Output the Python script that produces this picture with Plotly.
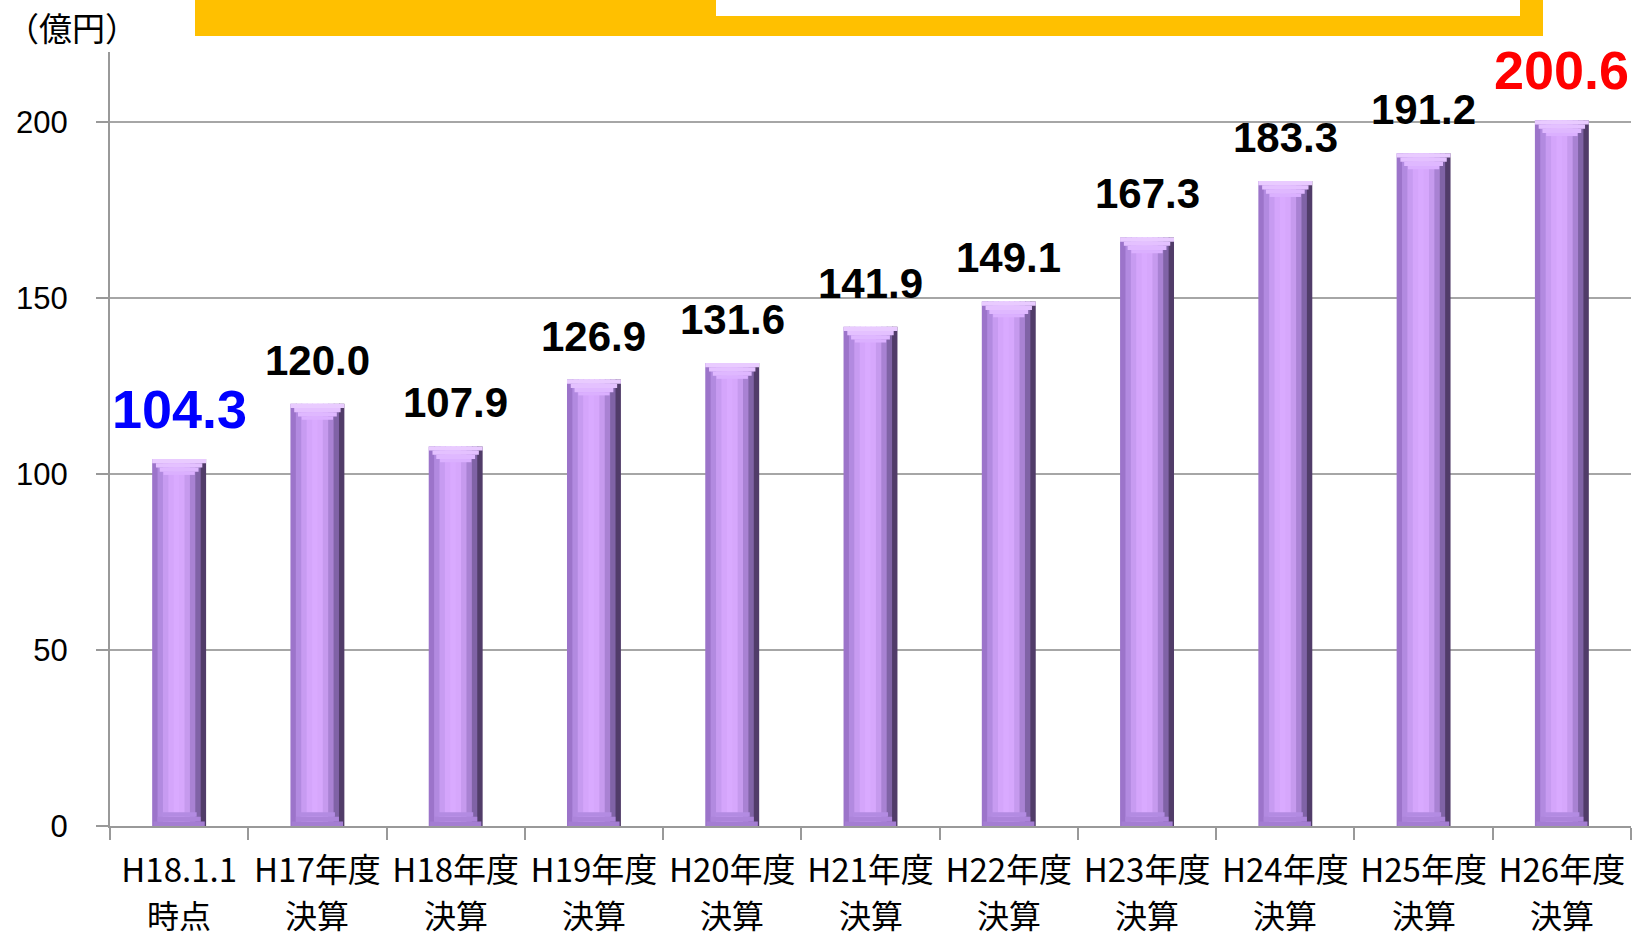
import plotly.graph_objects as go

# ---- data ----
cat_line1 = ["H18.1.1", "H17年度", "H18年度", "H19年度", "H20年度", "H21年度",
             "H22年度", "H23年度", "H24年度", "H25年度", "H26年度"]
cat_line2 = ["時点", "決算", "決算", "決算", "決算", "決算",
             "決算", "決算", "決算", "決算", "決算"]
values = [104.3, 120.0, 107.9, 126.9, 131.6, 141.9, 149.1, 167.3, 183.3, 191.2, 200.6]
label_colors = ["#0000FF"] + ["#000000"] * 9 + ["#FF0000"]
label_sizes = [54] + [42] * 9 + [54]
y_ticks = [0, 50, 100, 150, 200]
unit_label = "（億円）"

# ---- layout constants ----
W, H = 1638, 939
ML, MR, MT, MB = 110, 7, 52, 113
plot_w = W - ML - MR
plot_h = H - MT - MB
YMAX = 220

def px_to_paper_x(px):
    return (px - ML) / plot_w

def px_to_paper_y(py):
    return (H - MB - py) / plot_h

fig = go.Figure()

# bar drawn as vertical strips to imitate the bevel/gradient look
bar_w = 0.39
strip_colors = ["#9C74CA", "#B28AE0", "#C79BF1", "#D4A5FB", "#D9AAFF",
                "#D6A7FC", "#C69AEE", "#A982D3", "#8063A6", "#513C69"]
n = len(strip_colors)
step = bar_w / n
for i, c in enumerate(strip_colors):
    fig.add_trace(go.Bar(
        x=cat_line1, y=values,
        offset=-bar_w / 2 + i * step,
        width=step * 1.2 if i < n - 1 else step,
        marker=dict(color=c, line=dict(width=0)),
        hoverinfo="skip", showlegend=False,
    ))

# top bevel highlight (stepped trapezoid)
top_caps = [(1.0, 0.0, 1.2, "#E9CBFF"), (0.86, 1.2, 1.2, "#E4C1FF"),
            (0.72, 2.4, 1.2, "#DFB8FF"), (0.58, 3.6, 0.9, "#DBB0FF")]
for frac, depth, hgt, c in top_caps:
    fig.add_trace(go.Bar(
        x=cat_line1, y=[hgt] * len(values),
        base=[v - depth - hgt for v in values],
        offset=-bar_w * frac / 2, width=bar_w * frac,
        marker=dict(color=c, line=dict(width=0)),
        hoverinfo="skip", showlegend=False,
    ))

# bottom bevel (slightly darker trapezoid)
bot_caps = [(0.95, 0.0, 1.3, "#A47DD2"), (0.8, 1.3, 1.3, "#AC84DA"), (0.65, 2.6, 1.3, "#B38BE2")]
for frac, start, hgt, c in bot_caps:
    fig.add_trace(go.Bar(
        x=cat_line1, y=[hgt] * len(values),
        base=[start] * len(values),
        offset=-bar_w * frac / 2, width=bar_w * frac,
        marker=dict(color=c, line=dict(width=0)),
        hoverinfo="skip", showlegend=False,
    ))

annotations = []
# value labels
for cat, v, col, sz in zip(cat_line1, values, label_colors, label_sizes):
    annotations.append(dict(
        x=cat, y=v, xref="x", yref="y", text=f"{v:.1f}",
        showarrow=False, yanchor="bottom", yshift=18,
        font=dict(family="Liberation Sans, Arial, sans-serif", size=sz, color=col, weight="bold"),
    ))
# second line of category labels
for cat, l2 in zip(cat_line1, cat_line2):
    annotations.append(dict(
        x=cat, y=0, xref="x", yref="paper", text=l2,
        showarrow=False, yanchor="bottom", yshift=-113,
        font=dict(family="Noto Sans CJK JP", size=32, color="#000000"),
    ))
# unit label
annotations.append(dict(
    x=px_to_paper_x(4), y=px_to_paper_y(27), xref="paper", yref="paper",
    text=unit_label, showarrow=False, xanchor="left", yanchor="middle",
    font=dict(family="Noto Sans CJK JP", size=33, color="#000000"),
))

shapes = [
    dict(type="rect", xref="paper", yref="paper", layer="above",
         x0=px_to_paper_x(195), x1=px_to_paper_x(1543),
         y0=px_to_paper_y(36), y1=px_to_paper_y(-4),
         fillcolor="#FFC000", line=dict(width=0)),
    dict(type="rect", xref="paper", yref="paper", layer="above",
         x0=px_to_paper_x(716), x1=px_to_paper_x(1520),
         y0=px_to_paper_y(16), y1=px_to_paper_y(-6),
         fillcolor="#FFFFFF", line=dict(width=0)),
]

fig.update_layout(
    width=W, height=H,
    margin=dict(l=ML, r=MR, t=MT, b=MB, pad=0, autoexpand=False),
    barmode="overlay",
    plot_bgcolor="#FFFFFF", paper_bgcolor="#FFFFFF",
    showlegend=False,
    annotations=annotations,
    shapes=shapes,
)
fig.update_xaxes(
    type="category", categoryorder="array", categoryarray=cat_line1,
    range=[-0.5, len(cat_line1) - 0.5],
    showline=True, linecolor="#999999", linewidth=2,
    ticks="outside", tickson="boundaries", ticklen=12, tickcolor="#999999", tickwidth=2,
    tickfont=dict(family="Noto Sans CJK JP", size=33, color="#000000"),
    tickangle=0, automargin=False,
    ticklabelstandoff=14,
    showgrid=False, zeroline=False,
)
fig.update_yaxes(
    range=[0, YMAX], tickvals=y_ticks, ticktext=[str(t) for t in y_ticks],
    showline=True, linecolor="#999999", linewidth=2,
    ticks="outside", ticklen=12, tickcolor="#999999", tickwidth=2,
    showgrid=True, gridcolor="#A6A6A6", gridwidth=2,
    zeroline=False, automargin=False,
    tickfont=dict(family="Liberation Sans, Arial, sans-serif", size=31, color="#000000"),
    ticklabelstandoff=22,
)

fig.write_html(
    "out.html",
    config={"displayModeBar": False},
    post_script="document.body.style.margin='0';document.body.style.overflow='hidden';",
)
